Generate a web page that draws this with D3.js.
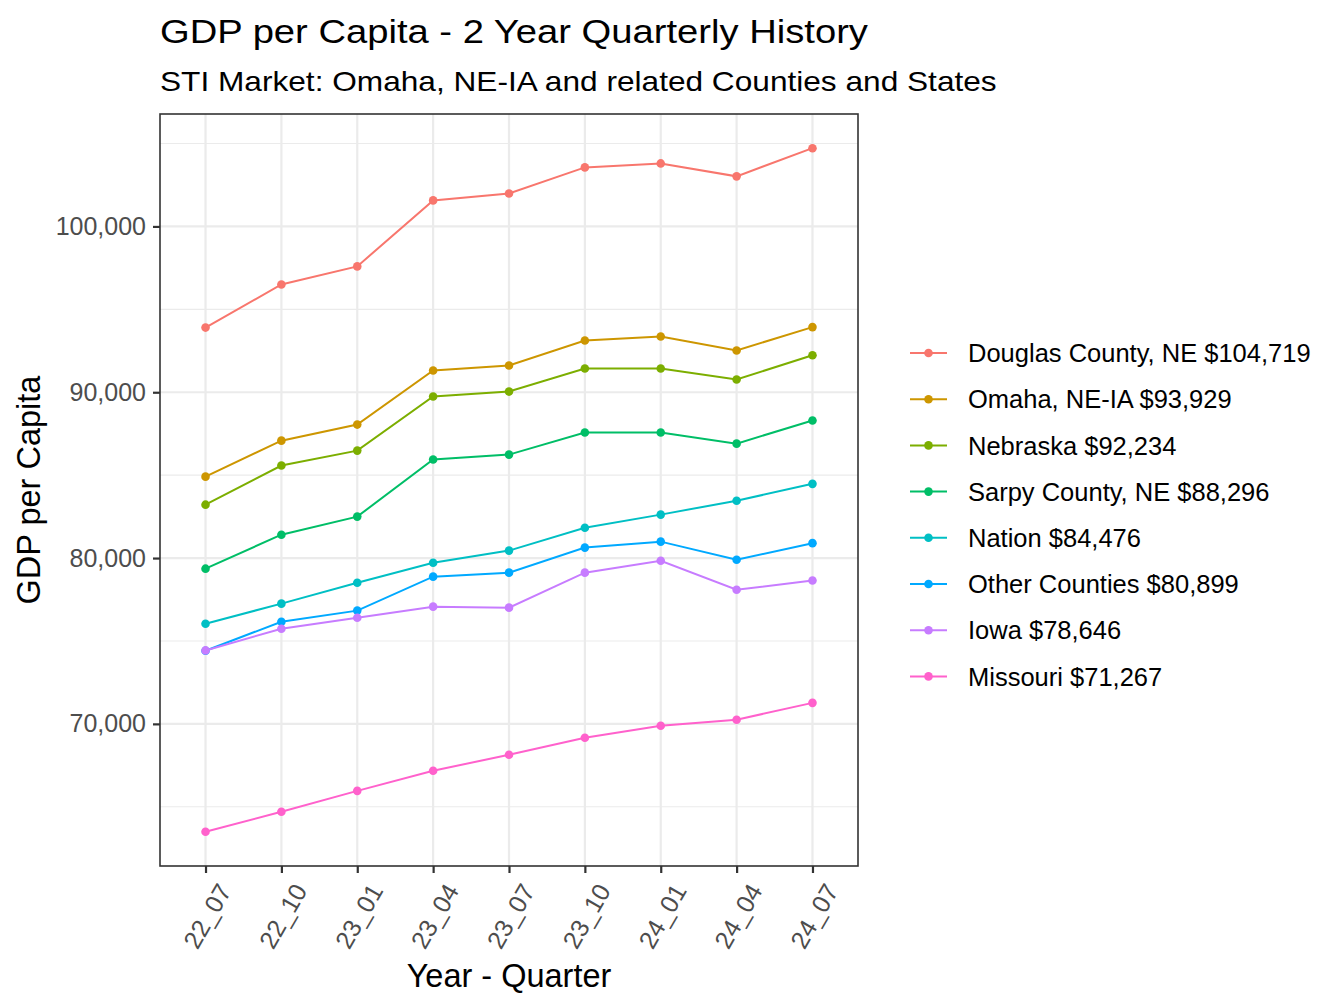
<!DOCTYPE html>
<html><head><meta charset="utf-8">
<script src="https://cdn.jsdelivr.net/npm/d3@7"></script>
<style>body{margin:0;background:#fff}svg{display:block}text{font-family:"Liberation Sans",Arial,sans-serif}</style>
</head><body>
<svg id="chart" width="1344" height="1008"></svg>
<script>
const quarters = ["22_07","22_10","23_01","23_04","23_07","23_10","24_01","24_04","24_07"];
const seriesNames = ["Douglas County, NE $104,719","Omaha, NE-IA $93,929","Nebraska $92,234","Sarpy County, NE $88,296","Nation $84,476","Other Counties $80,899","Iowa $78,646","Missouri $71,267"];
const douglas = [93900,96500,97590,101570,101990,103560,103800,103020,104719];
const omaha   = [84910,87080,88050,91310,91610,93120,93360,92520,93929];
const nebraska= [83220,85580,86480,89740,90040,91430,91430,90770,92234];
const sarpy   = [79360,81410,82500,85940,86240,87570,87570,86900,88296];
const nation  = [76040,77250,78510,79720,80450,81830,82620,83460,84476];
const other   = [74410,76160,76830,78880,79120,80630,80990,79900,80899];
const iowa    = [74430,75740,76400,77070,77010,79120,79840,78090,78646];
const missouri= [63490,64700,65960,67170,68140,69160,69890,70250,71267];
const yTicks = [70000,80000,90000,100000];
const colors = ["#F8766D","#CD9600","#7CAE00","#00BE67","#00BFC4","#00A9FF","#C77CFF","#FF61CC"];

const allSeries = [douglas,omaha,nebraska,sarpy,nation,other,iowa,missouri];
const svg = d3.select("#chart");
const L=160, R=858, T=114, B=866;

const x = d3.scalePoint().domain(quarters).range([L,R]).padding(0.6);
const vmin = d3.min(allSeries.flat()), vmax = d3.max(allSeries.flat());
const pad = (vmax-vmin)*0.05;
const y = d3.scaleLinear().domain([vmin-pad, vmax+pad]).range([B,T]);

// minor gridlines
const minor = [];
for (let i=0;i<yTicks.length+1;i++){ const v = 65000 + i*10000; if (v>y.domain()[0] && v<y.domain()[1]) minor.push(v); }
svg.append("g").selectAll("line").data(minor).join("line")
  .attr("x1",L).attr("x2",R).attr("y1",d=>y(d)).attr("y2",d=>y(d))
  .attr("stroke","#EBEBEB").attr("stroke-width",1.1);
svg.append("g").selectAll("line").data(yTicks).join("line")
  .attr("x1",L).attr("x2",R).attr("y1",d=>y(d)).attr("y2",d=>y(d))
  .attr("stroke","#EBEBEB").attr("stroke-width",2.2);
svg.append("g").selectAll("line").data(quarters).join("line")
  .attr("x1",d=>x(d)).attr("x2",d=>x(d)).attr("y1",T).attr("y2",B)
  .attr("stroke","#EBEBEB").attr("stroke-width",2.2);

// lines and points
const line = d3.line().x((d,i)=>x(quarters[i])).y(d=>y(d));
allSeries.forEach((s,k)=>{
  svg.append("path").datum(s).attr("d",line).attr("fill","none")
    .attr("stroke",colors[k]).attr("stroke-width",2);
  svg.append("g").selectAll("circle").data(s).join("circle")
    .attr("cx",(d,i)=>x(quarters[i])).attr("cy",d=>y(d)).attr("r",4.3).attr("fill",colors[k]);
});

// panel border
svg.append("rect").attr("x",L).attr("y",T).attr("width",R-L).attr("height",B-T)
  .attr("fill","none").attr("stroke","#333333").attr("stroke-width",1.6);

// y axis
const yAxis = d3.axisLeft(y).tickValues(yTicks).tickFormat(d3.format(",")).tickSize(7).tickPadding(7);
const gy = svg.append("g").attr("transform",`translate(${L},0)`).call(yAxis);
gy.select(".domain").remove();
gy.selectAll(".tick line").attr("stroke","#333333").attr("stroke-width",2.2);
gy.selectAll(".tick text").attr("fill","#4D4D4D").style("font-size","25px");

// x axis
const xAxis = d3.axisBottom(x).tickSize(7).tickPadding(5);
const gx = svg.append("g").attr("transform",`translate(0,${B})`).call(xAxis);
gx.select(".domain").remove();
gx.selectAll(".tick line").attr("stroke","#333333").attr("stroke-width",2.2);
gx.selectAll(".tick text").attr("fill","#4D4D4D").style("font-size","25px")
  .attr("text-anchor","middle").attr("dy",null).attr("y",0)
  .attr("transform","translate(1,50) rotate(-60)").attr("dominant-baseline","central");

// titles
svg.append("text").attr("transform",`translate(${L},43) scale(1.14,1)`).text("GDP per Capita - 2 Year Quarterly History")
  .style("font-size","33.5px").attr("fill","#000");
svg.append("text").attr("transform",`translate(${L},91) scale(1.13,1)`).text("STI Market: Omaha, NE-IA and related Counties and States")
  .style("font-size","28px").attr("fill","#000");
svg.append("text").attr("x",(L+R)/2).attr("y",987).attr("text-anchor","middle")
  .text("Year - Quarter").style("font-size","32.5px").attr("fill","#000");
svg.append("text").attr("transform",`translate(40,${(T+B)/2}) rotate(-90)`).attr("text-anchor","middle")
  .text("GDP per Capita").style("font-size","32.5px").attr("fill","#000");

// legend
const lg = svg.append("g");
seriesNames.forEach((n,k)=>{
  const yy = 353 + k*46.2;
  lg.append("line").attr("x1",910).attr("x2",947).attr("y1",yy).attr("y2",yy)
    .attr("stroke",colors[k]).attr("stroke-width",2);
  lg.append("circle").attr("cx",928.5).attr("cy",yy).attr("r",4.3).attr("fill",colors[k]);
  lg.append("text").attr("x",968).attr("y",yy).attr("dy","0.36em").text(n)
    .style("font-size","25.5px").attr("fill","#000");
});
</script>
</body></html>
